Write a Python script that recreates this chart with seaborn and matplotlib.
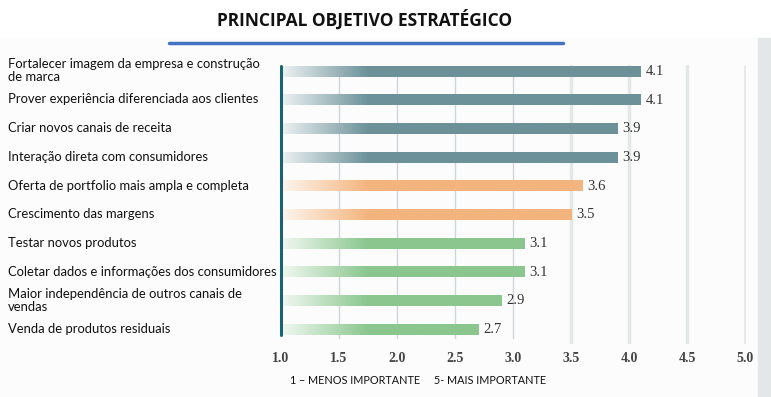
import numpy as np
import pandas as pd
import seaborn as sns
import matplotlib.pyplot as plt
from matplotlib.colors import to_rgb
from matplotlib.transforms import blended_transform_factory
from matplotlib.patches import Rectangle
from matplotlib.lines import Line2D

# dados do grafico
categorias = [
    "Fortalecer imagem da empresa e construção\nde marca",
    "Prover experiência diferenciada aos clientes",
    "Criar novos canais de receita",
    "Interação direta com consumidores",
    "Oferta de portfolio mais ampla e completa",
    "Crescimento das margens",
    "Testar novos produtos",
    "Coletar dados e informações dos consumidores",
    "Maior independência de outros canais de\nvendas",
    "Venda de produtos residuais",
]
notas = [4.1, 4.1, 3.9, 3.9, 3.6, 3.5, 3.1, 3.1, 2.9, 2.7]
grupos = ["alto", "alto", "alto", "alto", "medio", "medio",
          "baixo", "baixo", "baixo", "baixo"]
cores = {"alto": "#6C9199", "medio": "#F3B47E", "baixo": "#8AC68E"}
ticks_x = [1.0, 1.5, 2.0, 2.5, 3.0, 3.5, 4.0, 4.5, 5.0]

df = pd.DataFrame({"categoria": categorias, "nota": notas, "grupo": grupos})

sns.set_style("white")
plt.rcParams["font.family"] = ["Lato", "DejaVu Sans"]

fig = plt.figure(figsize=(7.71, 3.97), dpi=100)
W, H = 771, 397
# faixa de fundo da area do grafico
fig.patches.append(Rectangle((0, 0), 1, 1 - 38 / H, transform=fig.transFigure,
                             color="#FCFCFC", zorder=-10))
fig.patches.append(Rectangle((758 / W, 0), 13 / W, 1 - 38 / H, transform=fig.transFigure,
                             color="#E3E7E7", zorder=-9))

ax = fig.add_axes([281 / W, 1 - 344 / H, (758 - 281) / W, (344 - 57) / H])
ax.set_facecolor("none")

sns.barplot(data=df, y="categoria", x="nota", hue="grupo", palette=cores,
            orient="h", width=0.36, legend=False, dodge=False, saturation=1, ax=ax)

# gradiente nas barras (claro a esquerda)
for p in list(ax.patches):
    x0, y0 = p.get_x(), p.get_y()
    w, h = p.get_width(), p.get_height()
    if w <= 0:
        continue
    cor = np.array(to_rgb(p.get_facecolor()))
    xs = np.linspace(1.0, x0 + w, 200)
    a = np.clip(0.12 + (xs - 1.0) / 0.85, 0.12, 1.0)
    img = np.ones((1, len(xs), 3)) * (1 - a)[None, :, None] + cor[None, None, :] * a[None, :, None]
    ax.imshow(img, extent=[1.0, x0 + w, y0 + h, y0], aspect="auto", zorder=3,
              interpolation="bilinear")
    p.set_visible(False)
ax.set_xlim(1.0, 5.11)
ax.set_ylim(9.5, -0.5)

# grades verticais
for t in ticks_x[1:]:
    if t <= 3.0:
        ax.axvline(t, ymin=0.02, ymax=0.97, color="#CDD7DB", lw=1, zorder=1)
    elif t < 5.0:
        ax.axvline(t, ymin=0.0, ymax=0.97, color="#E2E7E8", lw=2.5, zorder=1)
    else:
        ax.axvline(t, ymin=0.0, ymax=0.97, color="#E2E7E8", lw=1.2, zorder=1)
ax.axvline(1.0, ymin=0.03, ymax=0.97, color="#1A6470", lw=2.2, zorder=4, clip_on=False)

# rotulos de valor
for i, v in enumerate(notas):
    ax.text(v + 0.04, i, f"{v:.1f}", va="center", ha="left", fontsize=10.5,
            family="Liberation Serif", color="#333333", zorder=5)

# rotulos das categorias
trans = blended_transform_factory(fig.transFigure, ax.transData)
for i, c in enumerate(categorias):
    ax.text(8 / W, i - 0.02, c, transform=trans, ha="left", va="center",
            fontsize=9.4, linespacing=1.12, color="#111111")

ax.set_yticks([])
ax.set_ylabel("")
ax.set_xlabel("")
ax.set_xticks(ticks_x)
ax.set_xticklabels([f"{t:.1f}" for t in ticks_x], family="Liberation Serif",
                   fontsize=10, color="#444444", fontweight="bold")
ax.tick_params(axis="x", length=0, pad=6)
sns.despine(ax=ax, left=True, bottom=True)

# titulo e linha azul
fig.text(365 / W, 1 - 20 / H, "PRINCIPAL OBJETIVO ESTRATÉGICO", ha="center", va="center",
         fontsize=12.5, fontweight="bold", family=["Open Sans", "DejaVu Sans"], color="#111111")
fig.lines.append(Line2D([169 / W, 563 / W], [1 - 43 / H, 1 - 43 / H], transform=fig.transFigure,
                        color="#4472C4", lw=2.5))

fig.text(290 / W, 1 - 381 / H, "1 – MENOS IMPORTANTE     5- MAIS IMPORTANTE",
         ha="left", va="center", fontsize=7.8, color="#111111")

fig.savefig("out.png", dpi=100)
